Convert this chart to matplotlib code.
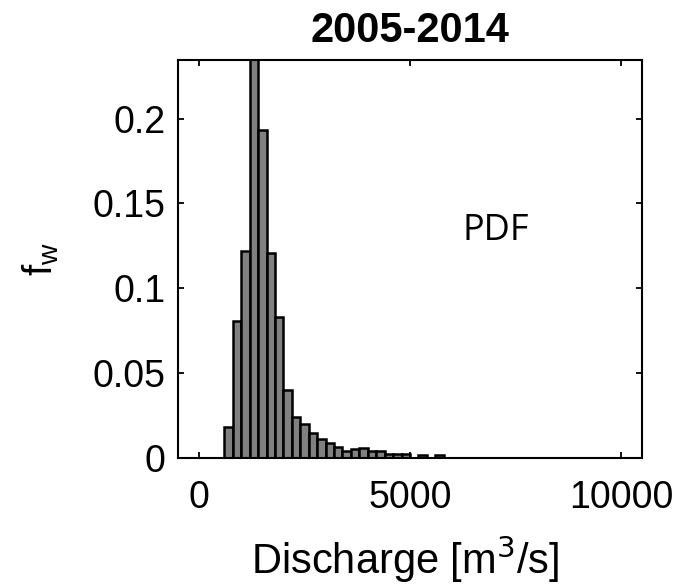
import numpy as np
import matplotlib
matplotlib.use('Agg')
import matplotlib.pyplot as plt

# histograma 2005-2014
bin_edges = [600, 800, 1000, 1200, 1400, 1600, 1800, 2000, 2200, 2400, 2600,
             2800, 3000, 3200, 3400, 3600, 3800, 4000, 4200, 4400, 4600,
             4800, 5000, 5200, 5400, 5600, 5800]
fw = [0.018, 0.081, 0.122, 0.26, 0.193, 0.121, 0.083, 0.040, 0.024, 0.020,
      0.015, 0.011, 0.009, 0.0065, 0.004, 0.005, 0.006, 0.004, 0.004,
      0.0024, 0.0024, 0.0024, 0.0, 0.0016, 0.0, 0.0016]

xticks = [0, 5000, 10000]
yticks = [0, 0.05, 0.1, 0.15, 0.2]

plt.rcParams['font.family'] = ['Liberation Sans', 'DejaVu Sans']

fig = plt.figure(figsize=(6.89, 5.87), dpi=100)
ax = fig.add_axes([0.2583, 0.2198, 0.6735, 0.678])

left = np.array(bin_edges[:-1])
width = np.diff(bin_edges)
ax.bar(left, fw, width=width, align='edge', color='#808080',
       edgecolor='black', linewidth=1.8)

ax.set_xlim(-500, 10500)
ax.set_ylim(0, 0.2345)
ax.set_xticks(xticks)
ax.set_xticklabels(['0', '5000', '10000'])
ax.set_yticks(yticks)
ax.set_yticklabels(['0', '0.05', '0.1', '0.15', '0.2'])

for s in ax.spines.values():
    s.set_linewidth(1.5)

ax.tick_params(axis='both', direction='in', length=4, width=1.3,
               top=True, right=True, labelsize=27)
ax.tick_params(axis='x', pad=16)
ax.tick_params(axis='y', pad=9)

ax.set_xlabel(r'Discharge [m$^3$/s]', fontsize=30)
ax.xaxis.set_label_coords(0.49, -0.19)
ax.set_ylabel(r'f$_\mathregular{w}$', fontsize=29)
ax.yaxis.set_label_coords(-0.252, 0.5)
ax.set_title('2005-2014', fontsize=30, fontweight='bold', pad=13)

ax.text(7030, 0.1340, 'PDF', fontsize=26, family='Open Sans',
        ha='center', va='center')

fig.savefig('out.png', dpi=100)
